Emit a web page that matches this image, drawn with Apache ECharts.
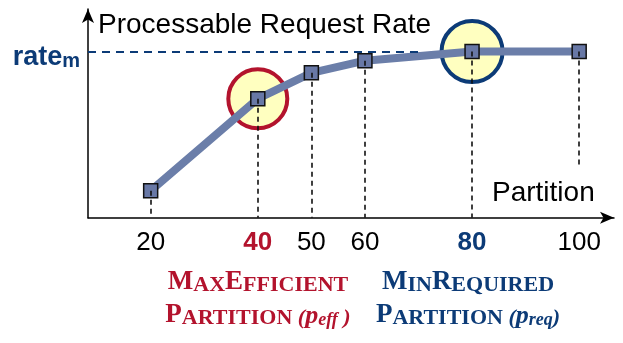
<!DOCTYPE html>
<html>
<head>
<meta charset="utf-8">
<script src="https://cdn.jsdelivr.net/npm/echarts@6.0.0/dist/echarts.min.js"></script>
<style>
  html, body { margin: 0; padding: 0; background: #fff; }
  #main { width: 623px; height: 343px; }
</style>
</head>
<body>
<div id="main"></div>
<script>
// data (rate normalised so rate_m = 1)
var partitions = [20, 40, 50, 60, 80, 100];
var rates = [0.162, 0.716, 0.872, 0.945, 1.0, 1.0];
var tickValues = [20, 40, 50, 60, 80, 100];
var dropEnds = [0, 0, 0, 0, 0, 0.32];   // where each dashed drop line stops
var rateM = 1.0;
var rateMEnd = 70;                      // dashed rate_m line runs to here
var effPartition = 40;
var reqPartition = 80;

var RED = '#b3132d';
var BLUE = '#0c3b77';

var linePoints = partitions.map(function (p, i) { return [p, rates[i]]; });

var dropLines = partitions.map(function (p, i) {
    return [{ coord: [p, rates[i]] }, { coord: [p, dropEnds[i]] }];
});

var circles = [
    {
        value: [effPartition, rates[partitions.indexOf(effPartition)]],
        symbolSize: 59,
        itemStyle: { color: '#ffffc0', borderColor: RED, borderWidth: 4, opacity: 1 }
    },
    {
        value: [reqPartition, rates[partitions.indexOf(reqPartition)]],
        symbolSize: 61,
        itemStyle: { color: '#ffffc0', borderColor: BLUE, borderWidth: 4, opacity: 1 }
    }
];

var myChart = echarts.init(document.getElementById('main'));

var serif = 'Liberation Serif';
var capsRich = function (color, d) {
    return {
        B: { fontFamily: serif, fontWeight: 'bold', fontSize: 27, lineHeight: 27 + 2 * d, verticalAlign: 'bottom', fill: color },
        S: { fontFamily: serif, fontWeight: 'bold', fontSize: 22, lineHeight: 22 + 2 * d, verticalAlign: 'bottom', fill: color },
        Par: { fontFamily: serif, fontWeight: 'bold', fontStyle: 'italic', fontSize: 22, lineHeight: 22 + 2 * d, verticalAlign: 'bottom', fill: color },
        P: { fontFamily: serif, fontWeight: 'bold', fontStyle: 'italic', fontSize: 26, lineHeight: 26 + 2 * d, verticalAlign: 'bottom', fill: color },
        Sub: { fontFamily: serif, fontWeight: 'bold', fontStyle: 'italic', fontSize: 18, lineHeight: 18, verticalAlign: 'bottom', fill: color }
    };
};

var option = {
    animation: false,
    grid: {
        left: 88,
        right: 9,
        top: 9,
        bottom: 125.3
    },
    xAxis: {
        type: 'value',
        min: 8.3,
        max: 106.5,
        splitLine: { show: false },
        axisTick: { show: false },
        axisLine: {
            lineStyle: { color: '#000', width: 1.5 },
            symbol: ['none', 'arrow'],
            symbolSize: [9, 14]
        },
        axisLabel: {
            customValues: tickValues,
            margin: 12,
            fontFamily: 'Liberation Sans',
            fontSize: 26,
            lineHeight: 26,
            color: '#000',
            formatter: function (v) {
                if (v === effPartition) return '{eff|' + v + '}';
                if (v === reqPartition) return '{req|' + v + '}';
                return String(v);
            },
            rich: {
                eff: { fontFamily: 'Liberation Sans', fontWeight: 'bold', fontSize: 26, lineHeight: 26, color: RED },
                req: { fontFamily: 'Liberation Sans', fontWeight: 'bold', fontSize: 26, lineHeight: 26, color: BLUE }
            }
        }
    },
    yAxis: {
        type: 'value',
        min: 0,
        max: 1.256,
        splitLine: { show: false },
        axisTick: { show: false },
        axisLine: {
            show: true,
            lineStyle: { color: '#000', width: 1.5 },
            symbol: ['none', 'arrow'],
            symbolSize: [9, 14]
        },
        axisLabel: {
            customValues: [rateM],
            margin: 8,
            formatter: function () { return '{a|rate}{b|m}'; },
            rich: {
                a: { fontFamily: 'Liberation Sans', fontWeight: 'bold', fontSize: 27, lineHeight: 39, verticalAlign: 'bottom', color: BLUE },
                b: { fontFamily: 'Liberation Sans', fontWeight: 'bold', fontSize: 20, lineHeight: 20, verticalAlign: 'bottom', color: BLUE }
            }
        }
    },
    series: [
        {
            // highlight circles behind everything
            type: 'scatter',
            symbol: 'circle',
            z: 1,
            silent: true,
            data: circles
        },
        {
            // dashed guide lines
            type: 'line',
            z: 2,
            data: [],
            markLine: {
                silent: true,
                symbol: ['none', 'none'],
                label: { show: false },
                animation: false,
                lineStyle: { color: '#111', width: 1.6, type: [5, 4] },
                data: dropLines.concat([
                    [
                        { coord: [8.3, rateM], lineStyle: { color: BLUE, width: 2, type: [8, 6] } },
                        { coord: [rateMEnd, rateM] }
                    ]
                ])
            }
        },
        {
            type: 'line',
            z: 3,
            data: linePoints,
            symbol: 'rect',
            symbolSize: 14,
            lineStyle: { color: '#6b7ea9', width: 8 },
            itemStyle: { color: '#6878a6', borderColor: '#111', borderWidth: 1.5 }
        }
    ],
    graphic: [
        {
            type: 'text',
            x: 98,
            y: 25,
            style: {
                text: 'Processable Request Rate',
                fontFamily: 'Liberation Sans',
                fontSize: 28,
                fill: '#000',
                verticalAlign: 'middle'
            }
        },
        {
            type: 'text',
            x: 492,
            y: 193,
            style: {
                text: 'Partition',
                fontFamily: 'Liberation Sans',
                fontSize: 28,
                fill: '#000',
                verticalAlign: 'middle'
            }
        },
        {
            type: 'text',
            x: 258,
            y: 296,
            style: {
                text: '{B|M}{S|AX}{B|E}{S|FFICIENT}',
                rich: capsRich(RED, 0),
                align: 'center',
                verticalAlign: 'bottom'
            }
        },
        {
            type: 'text',
            x: 258,
            y: 329,
            style: {
                text: '{B|P}{S|ARTITION }{Par|(}{P|p}{Sub|eff}{Par| )}',
                rich: capsRich(RED, 2),
                align: 'center',
                verticalAlign: 'bottom'
            }
        },
        {
            type: 'text',
            x: 468,
            y: 296,
            style: {
                text: '{B|M}{S|IN}{B|R}{S|EQUIRED}',
                rich: capsRich(BLUE, 0),
                align: 'center',
                verticalAlign: 'bottom'
            }
        },
        {
            type: 'text',
            x: 468,
            y: 329,
            style: {
                text: '{B|P}{S|ARTITION }{Par|(}{P|p}{Sub|req}{Par|)}',
                rich: capsRich(BLUE, 2),
                align: 'center',
                verticalAlign: 'bottom'
            }
        }
    ]
};

myChart.setOption(option);
</script>
</body>
</html>
